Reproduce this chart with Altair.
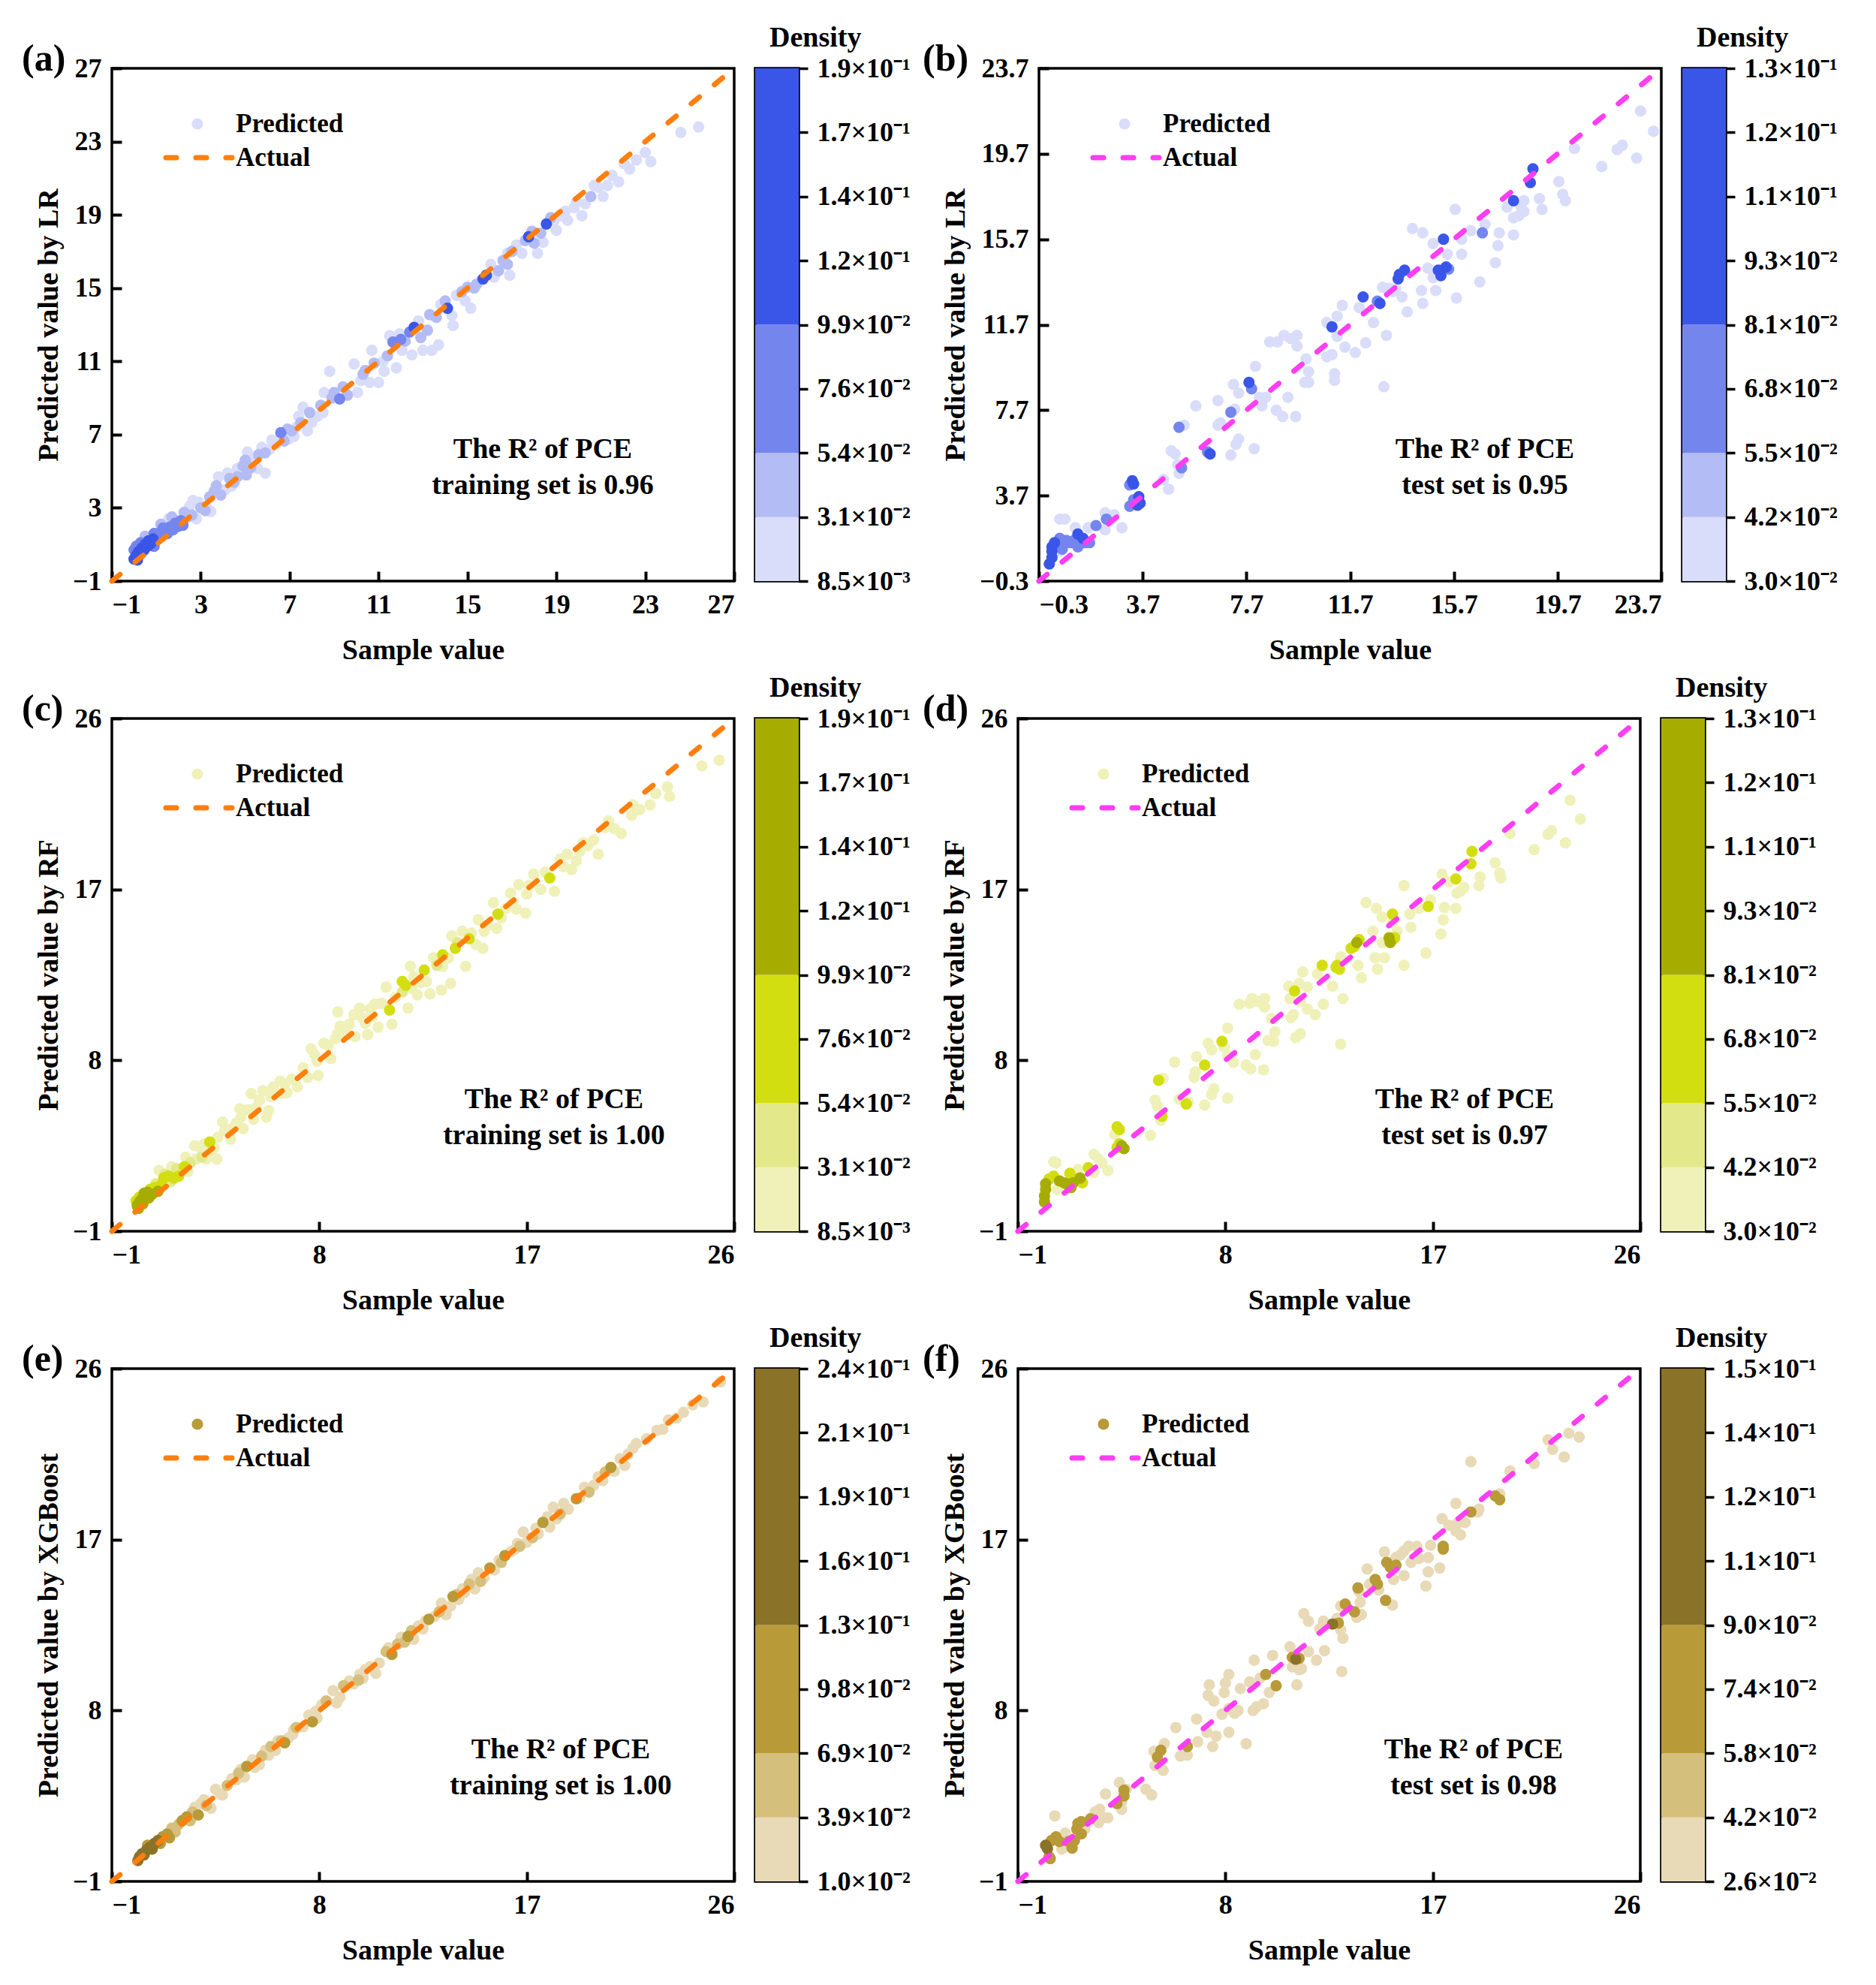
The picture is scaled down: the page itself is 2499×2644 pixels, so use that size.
import altair as alt
import pandas as pd

FONT = "Liberation Serif"
W, H = 829, 683

BLUES = ["#d9ddfa", "#b4bcf6", "#7585ee", "#3a56e8"]
OLIVES = ["#eff1b9", "#e3e98a", "#d3de10", "#a7ad00"]
BROWNS = ["#e8dab7", "#d5bf7c", "#b89a38", "#8b7229"]
ORANGE = "#ff7f0e"
MAGENTA = "#ff3df2"

# colour bands of the colourbar, in tick steps (ticks 0..8)
BAND_LO = [0, 1, 2, 4]
BAND_HI = [1, 2, 4, 8]
BAND_C = [0, 1, 2, 3]

TICKS_A = [-1, 3, 7, 11, 15, 19, 23, 27]
TICKS_B = [-0.3, 3.7, 7.7, 11.7, 15.7, 19.7, 23.7]
TICKS_CF = [-1, 8, 17, 26]

CB_A = ["8.5×10⁻³", "3.1×10⁻²", "5.4×10⁻²", "7.6×10⁻²", "9.9×10⁻²",
        "1.2×10⁻¹", "1.4×10⁻¹", "1.7×10⁻¹", "1.9×10⁻¹"]
CB_B = ["3.0×10⁻²", "4.2×10⁻²", "5.5×10⁻²", "6.8×10⁻²", "8.1×10⁻²",
        "9.3×10⁻²", "1.1×10⁻¹", "1.2×10⁻¹", "1.3×10⁻¹"]
CB_E = ["1.0×10⁻²", "3.9×10⁻²", "6.9×10⁻²", "9.8×10⁻²", "1.3×10⁻¹",
        "1.6×10⁻¹", "1.9×10⁻¹", "2.1×10⁻¹", "2.4×10⁻¹"]
CB_F = ["2.6×10⁻²", "4.2×10⁻²", "5.8×10⁻²", "7.4×10⁻²", "9.0×10⁻²",
        "1.1×10⁻¹", "1.2×10⁻¹", "1.4×10⁻¹", "1.5×10⁻¹"]

# (sample, predicted, density band)
PTS_A = [
    (0.0, 0.2, 3), (0.1, 0.4, 3), (0.15, 0.15, 3), (0.2, 0.6, 3), (0.3, 0.5, 3), (0.35, 0.8, 3),
    (0.45, 0.7, 3), (0.5, 1.0, 3), (0.6, 0.9, 3), (0.65, 1.2, 3), (0.75, 1.05, 3), (0.85, 1.3, 3),
    (0.0, 0.7, 2), (0.1, 0.9, 2), (0.3, 1.1, 2), (0.9, 0.9, 2), (1.0, 1.35, 2), (1.1, 1.6, 2),
    (1.25, 1.45, 2), (1.35, 1.8, 2), (1.5, 1.6, 2), (1.6, 1.95, 2), (1.75, 1.8, 2), (1.85, 2.15, 2),
    (2.0, 2.0, 2), (2.1, 2.3, 2), (0.5, 1.45, 1), (1.3, 1.9, 2), (1.55, 2.4, 0), (2.4, 2.5, 1),
    (2.25, 2.75, 1), (2.65, 3.4, 0), (2.9, 3.3, 0), (3.2, 2.85, 1), (3.3, 2.95, 0), (3.45, 2.8, 0),
    (3.0, 3.0, 1), (3.6, 3.9, 1), (3.8, 4.7, 0), (3.7, 4.2, 1), (4.1, 4.0, 0), (4.4, 4.2, 0),
    (4.3, 4.6, 1), (4.65, 5.15, 0), (4.65, 4.7, 1), (4.9, 5.3, 1), (5.05, 4.8, 1), (5.1, 6.05, 0),
    (5.35, 5.5, 0), (5.25, 5.2, 1), (5.55, 5.15, 0), (5.75, 6.3, 0), (5.9, 4.9, 0), (5.6, 5.9, 1),
    (6.1, 6.2, 0), (6.4, 6.5, 0), (6.6, 7.1, 2), (6.75, 6.65, 1), (6.95, 6.75, 0), (7.1, 7.2, 1),
    (7.3, 7.4, 0), (7.6, 8.5, 0), (7.5, 7.65, 1), (7.8, 7.2, 0), (8.0, 7.65, 0), (8.25, 8.0, 0),
    (8.4, 8.6, 1), (8.55, 9.3, 0), (8.8, 10.45, 0), (9.0, 9.3, 1), (9.25, 8.95, 2), (9.6, 9.15, 1),
    (9.9, 10.85, 0), (10.2, 9.95, 0), (10.05, 9.3, 0), (10.4, 10.5, 1), (10.6, 9.85, 0), (10.7, 11.6, 0),
    (11.0, 9.85, 0), (11.25, 10.45, 0), (11.4, 11.3, 1), (11.8, 10.65, 0), (11.65, 12.05, 2), (11.95, 12.5, 0),
    (12.05, 11.6, 0), (12.2, 12.1, 1), (12.5, 11.35, 0), (12.6, 12.85, 3), (12.9, 12.3, 1), (13.0, 11.6, 0),
    (13.4, 11.6, 0), (13.3, 13.55, 1), (13.7, 11.9, 0), (13.8, 14.1, 0), (14.1, 13.9, 3), (14.35, 12.95, 0),
    (14.5, 14.6, 0), (14.75, 14.8, 1), (15.0, 15.05, 1), (15.15, 13.9, 0), (15.3, 15.0, 1), (15.6, 15.4, 0),
    (15.7, 15.5, 3), (15.85, 15.7, 3), (16.05, 16.3, 0), (16.4, 15.95, 1), (16.6, 16.5, 1), (16.9, 15.7, 0),
    (16.8, 16.9, 0), (17.2, 17.35, 0), (17.45, 16.9, 0), (17.6, 17.6, 1), (17.75, 17.8, 3), (18.0, 17.45, 1),
    (18.15, 16.9, 0), (18.3, 18.0, 1), (18.55, 18.5, 3), (18.75, 18.85, 1), (19.0, 18.15, 0), (19.2, 18.95, 0),
    (19.5, 18.7, 0), (19.8, 19.4, 0), (20.15, 18.95, 0), (20.55, 20.0, 1), (20.7, 20.6, 0), (21.1, 20.0, 0),
    (21.5, 21.15, 0), (21.8, 20.8, 0), (22.05, 21.8, 0), (22.6, 22.0, 0), (23.0, 22.4, 0), (23.25, 21.9, 0),
    (24.6, 23.5, 0), (25.4, 23.8, 0),
    (0.9, 1.6, 2), (1.2, 2.1, 1), (1.7, 2.5, 1), (2.2, 2.05, 2), (2.6, 2.6, 1), (2.8, 2.4, 0),
    (2.5, 3.1, 0), (3.4, 3.6, 1), (3.9, 3.7, 1), (4.2, 4.9, 0), (4.5, 4.4, 1), (5.0, 5.6, 1),
    (5.5, 5.7, 0), (5.9, 6.0, 1), (6.2, 6.7, 0), (6.9, 7.3, 1), (7.2, 6.9, 0), (7.4, 8.0, 0),
    (7.9, 8.2, 1), (8.5, 8.2, 0), (8.9, 9.0, 1), (9.4, 9.6, 1), (10.3, 10.3, 1), (10.8, 10.9, 1),
    (11.2, 11.0, 0), (11.5, 12.4, 0), (12.0, 12.2, 2), (12.4, 12.6, 2), (12.8, 13.2, 0), (13.2, 12.7, 1),
    (13.6, 13.4, 1), (14.0, 14.3, 1), (14.3, 13.5, 0), (14.9, 14.3, 0), (15.4, 15.2, 1), (16.2, 15.6, 0),
    (16.8, 16.3, 1), (17.0, 17.0, 1), (17.9, 18.1, 1), (18.4, 17.5, 0), (18.9, 18.7, 0), (19.4, 19.2, 0),
    (19.9, 19.7, 0), (20.3, 19.6, 0), (20.9, 20.5, 0), (21.3, 20.6, 0), (22.3, 21.5, 0),
]

PTS_B = [
    (0.1, 0.5, 3), (0.2, 0.8, 3), (0.2, 1.1, 3), (0.2, 1.3, 3), (0.3, 1.5, 3), (0.5, 1.7, 2),
    (0.5, 2.6, 0), (0.7, 2.6, 0), (0.75, 1.6, 2), (0.9, 1.5, 2), (1.05, 1.6, 2), (1.2, 1.3, 2),
    (1.2, 1.9, 3), (1.4, 1.7, 3), (1.5, 1.5, 2), (1.65, 1.5, 2), (1.6, 2.2, 0), (1.1, 2.2, 0),
    (1.9, 2.3, 2), (2.25, 2.9, 0), (2.3, 2.6, 2), (2.25, 2.1, 0), (2.6, 2.8, 0), (2.9, 2.2, 0),
    (0.5, 1.1, 0), (0.6, 1.2, 2), (3.2, 4.2, 2), (3.3, 4.4, 3), (3.35, 4.25, 3), (3.2, 3.2, 2),
    (3.35, 3.5, 2), (3.55, 3.65, 3), (3.6, 3.35, 3), (3.5, 3.25, 3), (4.5, 4.45, 0), (4.7, 4.0, 0),
    (4.8, 5.8, 0), (4.95, 5.65, 0), (5.1, 6.9, 2), (5.3, 7.0, 0), (5.05, 5.15, 0), (5.2, 5.0, 2),
    (5.1, 4.75, 0), (5.75, 7.9, 0), (6.3, 5.65, 3), (6.2, 5.75, 2), (6.6, 8.15, 0), (6.7, 7.1, 0),
    (6.6, 7.0, 0), (7.1, 5.6, 0), (7.2, 8.9, 0), (7.25, 7.75, 0), (7.3, 6.1, 0), (7.4, 6.35, 0),
    (7.1, 7.6, 2), (7.4, 8.5, 0), (7.8, 9.0, 3), (7.9, 8.7, 2), (8.0, 5.9, 0), (8.05, 9.75, 0),
    (8.2, 8.3, 0), (8.3, 7.9, 0), (8.45, 8.3, 0), (8.6, 10.9, 0), (8.85, 7.7, 0), (8.9, 10.9, 0),
    (9.1, 7.4, 0), (9.15, 11.2, 0), (9.4, 11.05, 0), (9.3, 8.3, 0), (9.6, 7.4, 0), (9.65, 11.2, 0),
    (9.65, 10.7, 0), (10.0, 10.1, 0), (10.1, 9.5, 0), (9.95, 9.0, 0), (10.1, 9.0, 0), (10.8, 10.2, 0),
    (10.8, 11.8, 0), (11.0, 10.3, 0), (11.0, 11.6, 3), (11.2, 11.15, 0), (11.1, 9.4, 0), (11.1, 9.1, 0),
    (11.2, 12.1, 0), (11.4, 12.6, 0), (11.5, 10.65, 0), (11.9, 10.4, 0), (12.05, 12.5, 0), (12.2, 13.0, 3),
    (12.3, 10.85, 0), (12.6, 11.8, 0), (12.75, 12.8, 2), (12.85, 12.7, 3), (12.95, 13.45, 0), (13.0, 8.8, 0),
    (13.1, 11.2, 0), (13.2, 13.4, 0), (13.35, 13.25, 0), (13.45, 13.35, 0), (13.55, 13.85, 3), (13.6, 14.05, 3),
    (13.7, 13.0, 0), (13.8, 14.25, 3), (13.9, 12.3, 0), (14.1, 16.2, 0), (14.45, 13.3, 0), (14.5, 12.7, 0),
    (14.5, 16.0, 0), (14.7, 14.35, 0), (14.9, 13.9, 0), (14.9, 15.5, 0), (15.0, 13.3, 0), (15.1, 14.25, 3),
    (15.2, 14.0, 3), (15.3, 15.7, 3), (15.4, 14.4, 3), (15.5, 14.3, 2), (15.45, 15.0, 0), (15.75, 17.1, 0),
    (15.8, 12.95, 0), (16.0, 15.7, 0), (16.0, 15.0, 0), (16.35, 16.1, 0), (16.7, 13.7, 0), (16.8, 16.0, 2),
    (16.9, 16.4, 0), (17.3, 14.6, 0), (17.4, 15.4, 0), (17.45, 16.0, 0), (17.75, 17.2, 0), (18.0, 16.7, 0),
    (18.0, 17.5, 3), (18.0, 15.9, 0), (18.2, 16.8, 0), (18.3, 17.2, 0), (18.4, 17.5, 0), (18.4, 17.0, 0),
    (18.65, 18.35, 3), (18.75, 19.0, 3), (19.0, 17.6, 0), (19.1, 17.1, 0), (19.75, 18.4, 0), (19.9, 17.8, 0),
    (20.0, 17.5, 0), (20.35, 19.95, 0), (21.4, 19.1, 0), (22.0, 19.9, 0), (22.2, 20.1, 0), (22.75, 19.5, 0),
    (22.9, 21.7, 0), (23.4, 20.75, 0),
]

PTS_C = [
    (0.1, 0.35, 3), (0.2, 0.55, 3), (0.3, 0.7, 3), (0.45, 0.85, 3), (0.55, 1.05, 3), (0.15, 0.2, 3),
    (0.35, 0.45, 3), (0.6, 0.75, 3), (0.75, 0.95, 3), (0.4, 1.0, 3), (0.2, 0.8, 2), (0.05, 0.6, 2),
    (0.65, 1.2, 2), (0.85, 1.3, 2), (1.0, 1.1, 3), (1.1, 1.4, 2), (1.05, 2.2, 0), (1.25, 1.8, 2),
    (1.45, 1.9, 2), (1.6, 2.4, 0), (1.7, 1.8, 2), (1.9, 1.9, 2), (2.15, 2.4, 2), (2.3, 2.15, 0),
    (1.35, 1.55, 1), (1.55, 1.6, 1), (2.0, 2.15, 1), (2.6, 3.5, 0), (2.65, 2.8, 0), (2.9, 3.3, 0),
    (3.1, 2.8, 0), (3.25, 3.7, 2), (3.45, 3.4, 0), (3.55, 2.8, 0), (3.6, 3.95, 0), (3.8, 4.75, 0),
    (4.15, 3.85, 0), (4.2, 4.4, 0), (4.55, 5.45, 0), (4.6, 5.0, 0), (5.05, 6.25, 0), (5.15, 4.9, 0),
    (5.25, 5.5, 0), (5.55, 6.4, 0), (5.7, 5.0, 0), (5.8, 5.35, 0), (6.0, 6.6, 0), (6.4, 6.25, 0),
    (6.5, 6.75, 0), (7.05, 6.6, 0), (7.5, 7.1, 0), (7.65, 8.6, 0), (7.9, 7.95, 0), (7.95, 7.2, 0),
    (8.2, 8.9, 0), (8.7, 9.15, 0), (8.8, 10.55, 0), (8.8, 9.4, 0), (9.2, 9.4, 0), (9.5, 10.4, 0),
    (9.55, 9.25, 0), (9.75, 10.75, 0), (10.0, 9.95, 0), (10.1, 9.35, 0), (10.4, 10.95, 0), (10.55, 9.75, 0),
    (10.9, 11.85, 0), (11.05, 10.65, 2), (11.15, 9.9, 0), (11.6, 12.15, 2), (11.75, 11.95, 2), (11.85, 10.75, 0),
    (11.95, 12.95, 0), (12.25, 11.45, 0), (12.55, 12.75, 2), (12.65, 12.15, 0), (12.8, 11.5, 0), (12.95, 13.4, 0),
    (13.3, 11.7, 0), (13.35, 13.55, 2), (13.35, 12.95, 0), (13.7, 12.05, 0), (13.75, 14.55, 0), (13.9, 13.9, 2),
    (14.2, 14.8, 0), (14.35, 12.95, 0), (14.5, 14.4, 2), (14.9, 15.4, 0), (15.1, 13.9, 0), (15.15, 14.8, 0),
    (15.55, 16.3, 0), (15.75, 15.7, 2), (15.7, 14.95, 0), (16.3, 16.8, 0), (16.55, 15.95, 0), (16.65, 17.25, 0),
    (16.95, 15.75, 0), (17.0, 16.75, 0), (17.3, 17.8, 0), (17.8, 17.9, 0), (18.0, 17.6, 2), (18.2, 16.9, 0),
    (18.45, 18.6, 0), (18.75, 18.85, 0), (18.95, 18.05, 0), (19.15, 18.5, 0), (19.45, 19.45, 0), (19.65, 19.3, 0),
    (20.1, 18.85, 0), (20.4, 20.25, 0), (20.55, 20.6, 0), (21.1, 19.95, 0), (21.55, 20.9, 0), (21.6, 21.45, 0),
    (22.35, 21.45, 0), (22.6, 22.05, 0), (23.1, 22.4, 0), (23.2, 21.9, 0), (24.6, 23.5, 0), (25.35, 23.8, 0),
    (1.3, 2.0, 1), (1.8, 2.3, 1), (2.4, 2.6, 1), (2.9, 2.9, 1), (3.3, 3.2, 0), (3.9, 4.3, 0),
    (4.4, 4.7, 0), (4.9, 5.4, 0), (5.4, 5.9, 0), (5.9, 6.1, 0), (6.3, 6.9, 0), (6.8, 7.0, 0),
    (7.3, 7.6, 0), (7.8, 8.3, 0), (8.4, 8.8, 0), (8.9, 9.8, 0), (9.3, 9.9, 0), (9.9, 10.2, 0),
    (10.3, 10.3, 0), (10.7, 11.0, 0), (11.3, 11.3, 0), (11.6, 11.6, 1), (12.1, 12.4, 0), (12.4, 12.1, 0),
    (13.1, 13.0, 1), (13.6, 13.4, 0), (14.0, 14.2, 1), (14.6, 14.7, 0), (15.3, 15.1, 0), (15.9, 15.5, 0),
    (16.4, 16.3, 0), (17.1, 17.2, 0), (17.6, 17.0, 0), (18.6, 18.2, 0), (19.9, 19.6, 0), (20.8, 20.2, 0),
    (0.9, 1.5, 1), (2.2, 2.9, 0), (3.0, 3.6, 0), (4.7, 4.4, 0), (6.6, 6.3, 0), (8.5, 8.1, 0),
    (10.2, 10.7, 0), (12.0, 11.8, 0), (14.8, 14.1, 0), (16.1, 16.0, 0), (19.3, 19.0, 0), (21.9, 21.2, 0),
]

PTS_D = [
    (0.15, 0.55, 3), (0.15, 0.85, 3), (0.2, 1.2, 3), (0.2, 1.5, 3), (0.35, 1.75, 2), (0.55, 1.9, 2),
    (0.55, 2.65, 0), (0.65, 2.6, 0), (0.7, 1.2, 0), (0.8, 1.65, 3), (1.0, 1.55, 3), (1.1, 1.5, 3),
    (1.25, 2.05, 2), (1.3, 1.3, 3), (1.4, 1.55, 3), (1.55, 1.75, 2), (1.6, 2.25, 0), (1.7, 1.8, 3),
    (1.8, 1.55, 2), (2.05, 2.35, 2), (2.3, 3.05, 0), (2.3, 2.1, 0), (2.5, 2.8, 0), (2.65, 2.6, 0),
    (2.9, 2.2, 0), (3.2, 4.1, 0), (3.3, 4.5, 2), (3.4, 4.35, 2), (3.3, 3.4, 2), (3.4, 3.6, 2),
    (3.5, 3.5, 3), (3.6, 3.35, 3), (4.75, 4.05, 0), (4.95, 5.9, 0), (5.05, 5.6, 0), (5.1, 6.95, 2),
    (5.3, 7.05, 0), (5.2, 4.85, 0), (5.25, 5.05, 2), (5.8, 7.9, 0), (6.0, 5.95, 0), (6.3, 5.7, 2),
    (6.4, 5.8, 0), (6.65, 7.1, 0), (6.75, 8.2, 0), (6.7, 7.4, 0), (7.1, 5.65, 0), (7.1, 7.75, 2),
    (7.25, 8.9, 0), (7.4, 6.2, 0), (7.4, 8.55, 0), (7.5, 6.5, 0), (7.85, 9.0, 2), (7.95, 8.7, 0),
    (8.1, 9.7, 0), (8.1, 6.0, 0), (8.1, 8.25, 0), (8.35, 7.9, 0), (8.6, 10.95, 0), (8.9, 7.75, 0),
    (9.05, 11.0, 0), (9.15, 11.25, 0), (9.3, 8.3, 0), (9.4, 11.1, 0), (9.1, 7.55, 0), (9.65, 7.5, 0),
    (9.7, 11.25, 0), (9.7, 10.8, 0), (10.0, 10.2, 0), (9.85, 9.05, 0), (10.1, 9.0, 0), (10.15, 9.5, 0),
    (10.75, 11.9, 0), (10.85, 10.25, 0), (10.95, 10.4, 0), (11.0, 11.65, 2), (10.8, 11.25, 0), (11.05, 9.2, 0),
    (11.2, 12.05, 0), (11.25, 9.4, 0), (11.25, 11.1, 0), (11.35, 12.65, 0), (11.55, 11.85, 0), (11.55, 10.7, 0),
    (11.9, 10.4, 0), (12.0, 12.55, 0), (12.2, 13.0, 2), (12.25, 10.95, 0), (12.65, 11.9, 0), (12.8, 12.9, 2),
    (12.85, 13.0, 2), (12.95, 12.8, 2), (13.0, 13.45, 0), (13.1, 11.25, 0), (13.0, 8.85, 0), (13.45, 13.9, 2),
    (13.6, 14.0, 2), (13.7, 14.2, 3), (13.8, 14.35, 2), (13.75, 13.0, 0), (13.9, 12.35, 0), (14.1, 16.3, 0),
    (14.55, 16.0, 0), (14.6, 12.8, 0), (14.5, 13.4, 0), (14.4, 14.8, 0), (14.8, 14.2, 0), (14.8, 15.55, 0),
    (14.9, 13.4, 0), (15.1, 14.45, 3), (15.15, 14.2, 3), (15.25, 14.35, 2), (15.35, 14.45, 2), (15.25, 15.7, 2),
    (15.25, 15.25, 0), (15.45, 14.8, 0), (15.75, 13.0, 0), (15.75, 17.2, 0), (16.0, 15.7, 0), (16.05, 15.0, 0),
    (16.4, 16.0, 0), (16.7, 13.65, 0), (16.8, 16.1, 2), (16.9, 16.45, 0), (17.35, 14.65, 0), (17.45, 15.4, 0),
    (17.5, 16.05, 0), (17.4, 17.8, 0), (17.7, 17.4, 0), (18.0, 17.55, 2), (18.0, 16.0, 0), (18.05, 16.8, 0),
    (18.2, 16.9, 0), (18.35, 17.1, 0), (18.65, 18.35, 2), (18.7, 19.0, 2), (19.0, 17.2, 0), (19.05, 17.65, 0),
    (19.7, 18.4, 0), (19.9, 17.85, 0), (19.95, 17.6, 0), (20.35, 19.95, 0), (21.4, 19.1, 0), (22.0, 19.9, 0),
    (22.15, 20.1, 0), (22.75, 19.45, 0), (22.95, 21.7, 0), (23.4, 20.7, 0),
]

PTS_E = [
    (0.13, 0.1, 3), (0.3, 0.45, 3), (0.5, 0.65, 3), (0.65, 0.8, 3), (0.85, 1.0, 3), (1.0, 1.15, 3),
    (0.2, 0.3, 3), (0.4, 0.4, 3), (0.75, 0.7, 3), (0.55, 0.9, 2), (1.2, 1.35, 2), (1.4, 1.5, 2),
    (1.1, 1.0, 2), (1.6, 1.8, 1), (1.9, 2.0, 1), (2.05, 2.2, 2), (2.25, 2.4, 2), (2.5, 2.65, 1),
    (2.75, 2.5, 2), (2.85, 3.1, 0), (3.3, 2.85, 0), (3.5, 3.85, 0), (3.8, 3.55, 0), (4.0, 4.05, 1),
    (4.4, 4.35, 0), (4.75, 4.5, 0), (4.85, 5.05, 2), (5.1, 5.4, 0), (5.4, 5.15, 0), (5.65, 5.9, 0),
    (5.8, 5.65, 0), (6.35, 6.4, 1), (6.5, 6.3, 2), (6.65, 6.55, 0), (6.85, 6.75, 0), (7.3, 7.15, 0),
    (7.55, 7.75, 0), (7.7, 7.4, 2), (7.85, 7.95, 0), (8.6, 9.05, 0), (8.75, 8.4, 0), (9.05, 9.3, 1),
    (9.3, 9.55, 0), (9.75, 9.9, 0), (10.0, 10.15, 0), (10.45, 9.95, 0), (10.9, 11.1, 1), (11.15, 10.95, 2),
    (11.55, 11.85, 0), (11.85, 11.9, 2), (12.1, 11.75, 0), (12.3, 12.45, 0), (12.75, 12.8, 2), (13.0, 12.95, 0),
    (13.3, 13.65, 0), (13.5, 13.05, 0), (13.8, 14.0, 2), (14.05, 13.85, 0), (14.2, 14.4, 0), (14.5, 14.65, 1),
    (14.75, 14.4, 0), (14.9, 15.25, 0), (15.15, 15.0, 0), (15.4, 15.5, 2), (15.6, 15.4, 0), (16.05, 16.15, 2),
    (16.3, 16.35, 0), (16.5, 16.5, 0), (16.85, 17.4, 0), (17.0, 16.85, 0), (17.25, 17.1, 1), (17.4, 17.6, 0),
    (17.7, 17.9, 2), (18.0, 17.65, 0), (18.15, 18.7, 0), (18.45, 18.35, 1), (18.8, 18.6, 0), (19.15, 19.15, 2),
    (19.5, 19.75, 0), (19.9, 19.85, 0), (20.3, 20.1, 0), (20.4, 20.55, 1), (20.65, 20.8, 2), (21.05, 21.25, 0),
    (21.25, 20.9, 0), (21.6, 21.8, 0), (21.75, 22.05, 0), (22.65, 22.75, 0), (23.15, 23.3, 0), (24.65, 24.25, 0),
    (25.4, 25.3, 0), (3.1, 3.0, 1), (5.9, 6.1, 1), (8.3, 8.5, 1), (9.5, 9.4, 0), (11.4, 11.5, 1),
    (12.5, 12.3, 0), (13.95, 14.1, 1), (15.9, 15.8, 1), (16.7, 16.65, 1), (18.3, 18.1, 0), (19.7, 19.5, 1),
    (22.2, 22.3, 0), (23.5, 23.4, 0),
    (1.5, 1.3, 2), (1.75, 1.6, 1), (2.4, 2.2, 1), (2.6, 2.9, 0), (3.0, 3.3, 0), (3.7, 3.6, 0),
    (4.2, 4.4, 0), (4.5, 4.7, 1), (5.2, 5.0, 0), (5.5, 5.6, 1), (6.1, 5.9, 0), (6.2, 6.4, 0),
    (7.0, 7.1, 1), (7.9, 7.6, 0), (8.1, 8.3, 0), (8.9, 8.7, 0), (9.7, 9.6, 1), (10.2, 10.3, 0),
    (10.6, 10.5, 0), (11.0, 11.3, 0), (11.7, 11.6, 1), (12.6, 12.7, 0), (13.2, 13.2, 1), (13.7, 13.5, 0),
    (14.3, 14.2, 0), (15.0, 14.8, 1), (15.8, 15.9, 0), (16.6, 16.8, 0), (17.5, 17.3, 0), (18.6, 18.9, 0),
    (19.3, 19.2, 0), (20.1, 20.3, 0), (21.4, 21.5, 0), (22.9, 22.8, 0), (24.2, 24.1, 0),
    (4.6, 4.9, 0), (6.9, 7.0, 0), (9.9, 9.7, 0), (12.0, 12.2, 1), (14.6, 14.9, 0), (17.9, 18.2, 0),
    (20.8, 20.6, 0), (23.8, 23.7, 0),
]

PTS_F = [
    (0.28, 0.72, 3), (0.35, 0.3, 2), (0.4, 0.2, 2), (0.2, 0.9, 3), (0.45, 1.15, 2), (0.65, 1.35, 2),
    (0.8, 1.1, 2), (0.6, 2.45, 0), (0.9, 0.7, 0), (1.05, 1.55, 0), (1.2, 1.1, 2), (1.35, 0.75, 2),
    (1.45, 1.15, 2), (1.55, 1.75, 2), (1.6, 2.05, 2), (1.75, 2.15, 2), (1.75, 1.5, 2), (1.9, 1.75, 0),
    (2.15, 2.3, 2), (2.35, 2.65, 0), (2.5, 2.1, 0), (2.55, 2.8, 0), (2.7, 2.35, 0), (2.8, 3.6, 0),
    (2.9, 2.35, 0), (3.3, 3.1, 2), (3.4, 4.2, 0), (3.5, 2.8, 0), (3.5, 3.2, 0), (3.6, 3.8, 2),
    (3.6, 3.5, 2), (3.7, 3.85, 0), (4.55, 3.85, 0), (4.8, 3.55, 0), (4.9, 5.85, 0), (5.05, 5.55, 2),
    (5.2, 5.9, 2), (5.35, 6.25, 0), (4.95, 5.1, 0), (5.3, 4.85, 0), (5.85, 7.1, 0), (6.05, 5.6, 0),
    (6.35, 6.1, 2), (6.35, 5.65, 0), (6.75, 7.55, 0), (6.8, 6.35, 0), (7.2, 6.85, 0), (7.25, 8.8, 0),
    (7.3, 9.35, 0), (7.45, 6.1, 0), (7.5, 8.5, 0), (7.6, 6.65, 0), (7.85, 7.8, 0), (7.95, 8.95, 0),
    (8.0, 9.45, 0), (8.15, 6.85, 0), (8.15, 9.9, 0), (8.15, 8.1, 0), (8.4, 7.85, 0), (8.55, 8.0, 0),
    (8.65, 9.15, 0), (8.9, 6.25, 0), (9.05, 9.5, 0), (9.2, 8.0, 0), (9.25, 10.65, 0), (9.35, 8.2, 0),
    (9.5, 9.7, 0), (9.65, 8.35, 0), (9.75, 9.9, 2), (9.9, 8.95, 0), (10.05, 10.9, 0), (10.2, 9.3, 2),
    (10.8, 11.35, 0), (10.9, 10.3, 0), (10.9, 10.8, 2), (11.05, 10.7, 3), (11.2, 10.75, 2), (11.1, 9.35, 0),
    (11.2, 10.15, 0), (11.3, 10.2, 0), (11.4, 13.1, 0), (11.6, 11.1, 0), (11.6, 12.7, 0), (11.95, 10.65, 0),
    (12.1, 12.3, 0), (12.25, 12.7, 0), (12.3, 11.15, 0), (12.65, 12.55, 3), (12.85, 12.85, 0), (12.9, 12.6, 2),
    (13.0, 12.25, 0), (13.1, 11.8, 0), (13.05, 10.05, 0), (13.0, 13.5, 0), (13.2, 13.6, 2), (13.6, 13.2, 2),
    (13.7, 12.9, 0), (13.75, 14.45, 2), (13.8, 14.25, 0), (13.85, 13.7, 0), (13.9, 13.05, 0), (14.15, 15.45, 0),
    (14.25, 14.65, 0), (14.5, 14.9, 2), (14.6, 14.65, 2), (14.65, 14.35, 0), (14.9, 16.35, 0), (14.95, 13.8, 2),
    (15.0, 15.8, 2), (15.15, 15.55, 2), (15.25, 13.55, 0), (15.3, 14.9, 0), (15.4, 15.65, 2), (15.4, 16.05, 0),
    (15.6, 16.2, 0), (15.75, 16.4, 0), (15.75, 15.1, 0), (15.95, 16.65, 0), (16.05, 15.8, 0), (16.3, 16.65, 0),
    (16.4, 16.0, 0), (16.7, 14.55, 0), (16.8, 16.05, 0), (16.8, 15.3, 0), (16.9, 16.7, 0), (17.3, 15.5, 0),
    (17.4, 18.1, 0), (17.45, 16.65, 2), (17.45, 16.5, 2), (17.7, 17.75, 0), (18.0, 18.9, 0), (18.0, 17.45, 0),
    (18.1, 17.9, 0), (18.2, 17.25, 0), (18.4, 17.9, 0), (18.65, 18.45, 2), (18.65, 21.1, 0), (18.95, 18.45, 0),
    (19.0, 18.6, 0), (19.7, 19.3, 2), (19.9, 19.1, 2), (19.9, 19.4, 0), (20.35, 20.6, 0), (21.4, 21.0, 0),
    (22.0, 22.25, 0), (22.2, 21.75, 0), (22.7, 21.35, 0), (22.9, 22.6, 0), (23.35, 22.4, 0),
]


def text_mark(txt, x, y, size, align="left", baseline="alphabetic"):
    return alt.Chart(pd.DataFrame({"t": [txt]})).mark_text(
        font=FONT, fontSize=size, fontWeight="bold", color="black",
        align=align, baseline=baseline
    ).encode(text="t:N", x=alt.value(x), y=alt.value(y))


def panel(pts, lo, hi, ticks, fmt, model, tag, tag_x, line_col, cols,
          cb_labels, leg_col, r2_line, r2_x):
    df = pd.DataFrame(pts, columns=["x", "y", "c"]).sort_values("c", kind="stable")
    cscale = alt.Scale(domain=[0, 1, 2, 3], range=cols)

    xaxis = alt.Axis(values=ticks, format=fmt, title="Sample value", offset=-13,
                     tickSize=13, labelPadding=14, titlePadding=24)
    yaxis = alt.Axis(values=ticks, format=fmt, title="Predicted value by " + model,
                     offset=-13, tickSize=13, labelPadding=14, titlePadding=12)

    dots = alt.Chart(df).mark_circle(size=230, opacity=1).encode(
        x=alt.X("x:Q", scale=alt.Scale(domain=[lo, hi], nice=False, zero=False), axis=xaxis),
        y=alt.Y("y:Q", scale=alt.Scale(domain=[lo, hi], nice=False, zero=False), axis=yaxis),
        color=alt.Color("c:O", scale=cscale, legend=None),
    )
    diag = alt.Chart(pd.DataFrame({"x": [lo, hi], "y": [lo, hi]})).mark_line(
        color=line_col, strokeWidth=7, strokeDash=[14, 26], strokeCap="round"
    ).encode(x="x:Q", y="y:Q")

    one = pd.DataFrame({"t": [0]})
    leg_dot = alt.Chart(one).mark_circle(size=230, opacity=1, color=leg_col).encode(
        x=alt.value(114), y=alt.value(74))
    leg_line = alt.Chart(one).mark_rule(
        color=line_col, strokeWidth=7, strokeDash=[14, 26], strokeCap="round"
    ).encode(x=alt.value(72), x2=alt.value(160), y=alt.value(119))
    cb_frame = alt.Chart(one).mark_rect(
        fillOpacity=0, stroke="black", strokeWidth=3.5
    ).encode(x=alt.value(857), x2=alt.value(915), y=alt.value(0), y2=alt.value(H))

    inner = alt.layer(
        dots, diag, leg_dot, leg_line,
        text_mark("Predicted", 165, 74, 35, baseline="middle"),
        text_mark("Actual", 165, 119, 35, baseline="middle"),
        text_mark("The R² of PCE", r2_x, 508, 38, align="center", baseline="middle"),
        text_mark(r2_line, r2_x, 556, 38, align="center", baseline="middle"),
        text_mark(tag, tag_x, 3, 50),
        text_mark("Density", 876, -29, 38),
        cb_frame,
    )

    label_js = "[" + ",".join("'" + s + "'" for s in cb_labels) + "][datum.value]"
    cbar = alt.Chart(pd.DataFrame({"lo": BAND_LO, "hi": BAND_HI, "c": BAND_C})).mark_rect().encode(
        x=alt.value(857), x2=alt.value(915),
        y=alt.Y("lo:Q", scale=alt.Scale(domain=[0, 8], nice=False, zero=False),
                axis=alt.Axis(orient="right", offset=86, values=list(range(9)),
                              labelExpr=label_js, title=None, tickSize=12,
                              tickWidth=3.5, labelPadding=12)),
        y2="hi:Q",
        color=alt.Color("c:O", scale=cscale, legend=None),
    )

    return alt.layer(inner, cbar).resolve_scale(y="independent").properties(width=W, height=H)


pa = panel(PTS_A, -1, 27, TICKS_A, "d", "LR", "(a)", -120, ORANGE, BLUES, CB_A,
           BLUES[0], "training set is 0.96", 574)
pb = panel(PTS_B, -0.3, 23.7, TICKS_B, ".1f", "LR", "(b)", -155, MAGENTA, BLUES, CB_B,
           BLUES[0], "test set is 0.95", 594)
pc = panel(PTS_C, -1, 26, TICKS_CF, "d", "RF", "(c)", -120, ORANGE, OLIVES, CB_A,
           OLIVES[0], "training set is 1.00", 589)
pd_ = panel(PTS_D, -1, 26, TICKS_CF, "d", "RF", "(d)", -127, MAGENTA, OLIVES, CB_B,
            OLIVES[0], "test set is 0.97", 595)
pe = panel(PTS_E, -1, 26, TICKS_CF, "d", "XGBoost", "(e)", -120, ORANGE, BROWNS, CB_E,
           BROWNS[2], "training set is 1.00", 598)
pf = panel(PTS_F, -1, 26, TICKS_CF, "d", "XGBoost", "(f)", -127, MAGENTA, BROWNS, CB_F,
           BROWNS[2], "test set is 0.98", 607)

ind = dict(x="independent", y="independent", color="independent")
rows = [alt.hconcat(l, r, spacing=12).resolve_scale(**ind)
        for l, r in [(pa, pb), (pc, pd_), (pe, pf)]]

chart = alt.vconcat(*rows, spacing=9).resolve_scale(**ind).properties(
    padding={"left": 19, "top": 22, "right": 5, "bottom": 5}
).configure_view(
    stroke="black", strokeWidth=3.5
).configure_axis(
    labelFont=FONT, labelFontSize=36, labelFontWeight="bold", labelColor="black",
    titleFont=FONT, titleFontSize=38, titleFontWeight="bold", titleColor="black",
    tickColor="black", tickWidth=4, grid=False, domain=False,
)

chart.save("out.html", embed_options={"renderer": "svg", "actions": False})
